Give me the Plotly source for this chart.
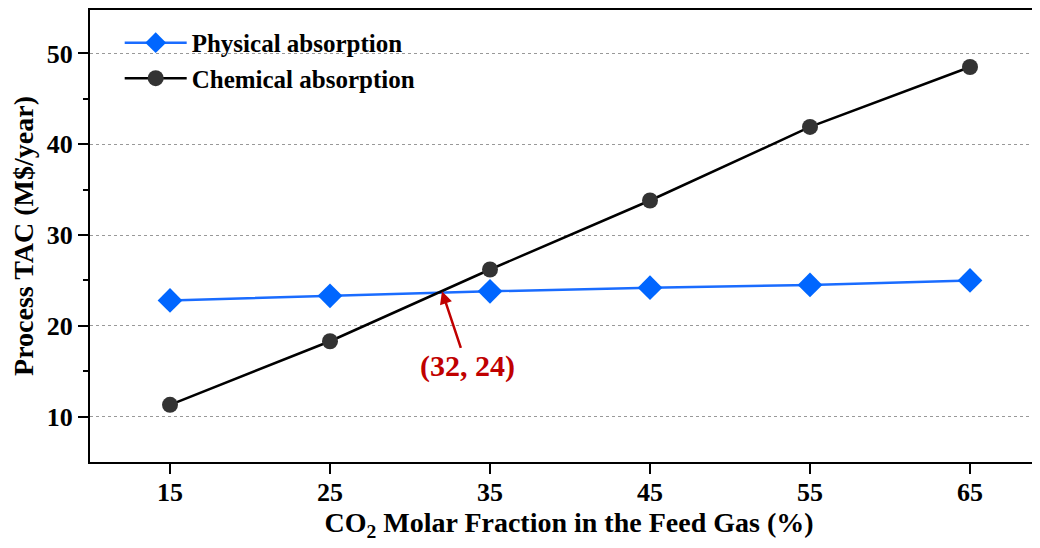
import plotly.graph_objects as go

co2_fraction = [15, 25, 35, 45, 55, 65]
physical_tac = [22.8, 23.3, 23.8, 24.2, 24.5, 25.0]
chemical_tac = [11.3, 18.3, 26.2, 33.8, 41.9, 48.5]
intersection = (32, 23.8)

FONT = "Liberation Serif"

fig = go.Figure()
fig.add_trace(go.Scatter(
    x=co2_fraction, y=physical_tac, mode="lines+markers", name="<b>Physical absorption</b>",
    line=dict(color="#1a6cff", width=2.5),
    marker=dict(symbol="diamond", size=19, color="#0066ff"),
))
fig.add_trace(go.Scatter(
    x=co2_fraction, y=chemical_tac, mode="lines+markers", name="<b>Chemical absorption</b>",
    line=dict(color="#000000", width=2.5),
    marker=dict(symbol="circle", size=16, color="#333333"),
))

fig.add_annotation(
    x=intersection[0], y=intersection[1], xref="x", yref="y",
    text="<b>(32, 24)</b>", showarrow=True, arrowhead=2, arrowsize=1, arrowwidth=2.5,
    arrowcolor="#c00000", ax=25, ay=75,
    font=dict(family=FONT, size=30, color="#c00000"),
)

fig.update_layout(
    width=1040, height=548,
    margin=dict(l=82, r=0, t=0, b=94),
    paper_bgcolor="white", plot_bgcolor="white",
    font=dict(family=FONT, size=25, color="black"),
    showlegend=True,
    legend=dict(x=0.031, y=0.978, xanchor="left", yanchor="top",
                bgcolor="rgba(0,0,0,0)", font=dict(family=FONT, size=25),
                itemwidth=62, tracegroupgap=0),
)

fig.update_xaxes(
    range=[10, 69.875], tickmode="array", tickvals=co2_fraction,
    ticktext=[f"<b>{v}</b>" for v in co2_fraction],
    showline=True, linecolor="black", linewidth=2, mirror=True,
    ticks="outside", ticklen=10, tickwidth=2, tickcolor="black",
    ticklabelstandoff=-4,
    showgrid=False, zeroline=False,
    tickfont=dict(family=FONT, size=26),
    title=dict(text="<b>CO<sub>2</sub> Molar Fraction in the Feed Gas (%)</b>",
               font=dict(family=FONT, size=28), standoff=4),
)
y_ticks = [10, 20, 30, 40, 50]
fig.update_yaxes(
    range=[5, 54.78], tickmode="array", tickvals=y_ticks,
    ticktext=[f"<b>{v}</b>" for v in y_ticks],
    showline=True, linecolor="black", linewidth=2,
    ticks="outside", ticklen=10, tickwidth=2, tickcolor="black",
    showgrid=True, gridcolor="#999999", gridwidth=1, griddash="dot",
    zeroline=False,
    minor=dict(tickvals=[15, 25, 35, 45], ticks="outside", ticklen=5, tickwidth=2,
               tickcolor="black", showgrid=False),
    tickfont=dict(family=FONT, size=26),
    title=dict(text="<b>Process TAC (M$/year)</b>", font=dict(family=FONT, size=28), standoff=12),
)

fig.write_html("out.html")
